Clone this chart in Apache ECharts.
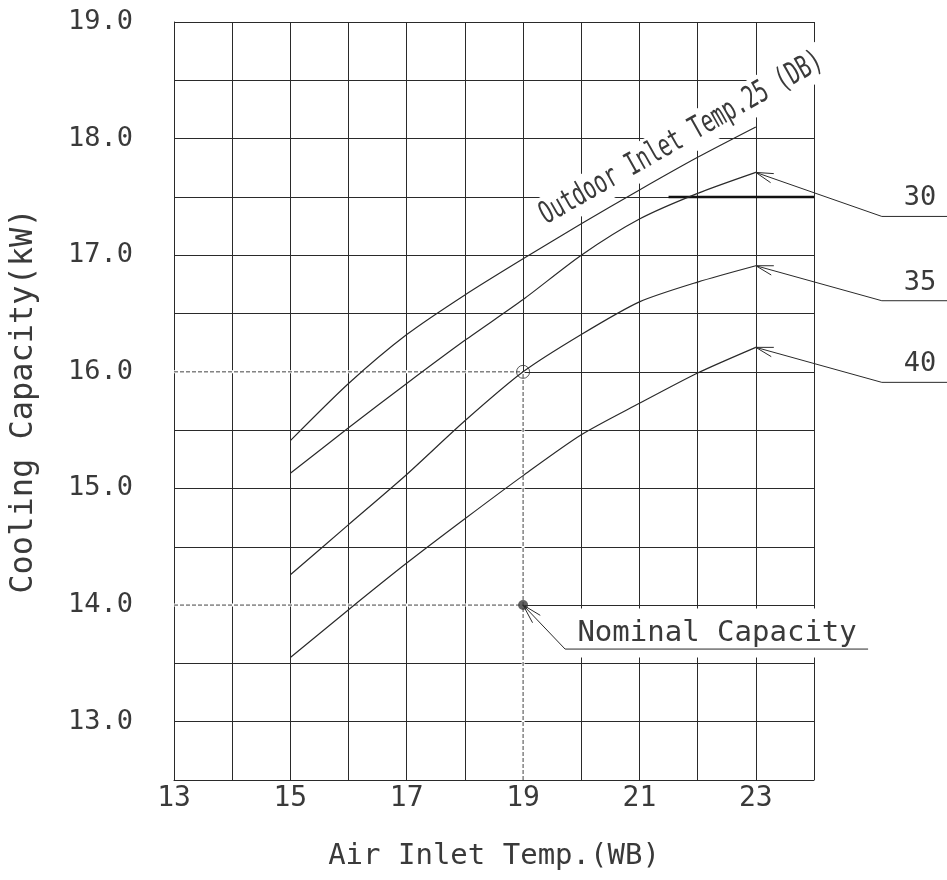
<!DOCTYPE html>
<html><head><meta charset="utf-8">
<script src="https://cdn.jsdelivr.net/npm/echarts@6/dist/echarts.min.js"></script>
<style>html,body{margin:0;padding:0;background:#fff}#c{width:947px;height:880px}</style>
</head><body><div id="c"></div>
<script>
// ---- data ----
const xTemps = [15, 16, 17, 18, 19, 20, 21, 22, 23];
const cap25 = [15.41, 15.90, 16.32, 16.66, 16.97, 17.27, 17.56, 17.84, 18.10];
const cap30 = [15.13, 15.52, 15.90, 16.27, 16.62, 17.00, 17.31, 17.53, 17.71];
const cap35 = [14.26, 14.69, 15.12, 15.58, 16.00, 16.32, 16.60, 16.77, 16.91];
const cap40 = [13.55, 13.96, 14.36, 14.74, 15.11, 15.46, 15.73, 15.99, 16.21];
const xTickLabels = [13, 15, 17, 19, 21, 23];
const yTickLabels = [13, 14, 15, 16, 17, 18, 19];
const ratedPoint = [19, 16];
const nominalPoint = [19, 14];
const boldGridSeg = [[21.5, 17.5], [24, 17.5]];
const outdoorNames = ['30', '35', '40'];
const outdoorSeries = [cap30, cap35, cap40];
const mainLabel = 'Outdoor Inlet Temp.25 (DB)';
const mainLabelAnchor = [21.72, 18.0];
const nominalText = 'Nominal Capacity';

const X_MIN = 13, X_MAX = 24, Y_MIN = 12.5, Y_MAX = 19;
const INK = '#2a2a2a';
const TXT = '#3a3a3a';
const FONT = "'DejaVu Sans Mono', monospace";

const pairs = arr => xTemps.map((x, i) => [x, arr[i]]);

const curve = (name, arr) => ({
  name, type: 'line', data: pairs(arr), smooth: 0.25, showSymbol: false, symbol: 'none',
  lineStyle: { color: INK, width: 1.2 }, z: 5, silent: true, animation: false
});

const chart = echarts.init(document.getElementById('c'), null, { renderer: 'canvas' });

const option = {
  animation: false,
  backgroundColor: '#fff',
  grid: { left: 172, top: 22, width: 642, height: 758, containLabel: false },
  xAxis: {
    type: 'value', min: X_MIN, max: X_MAX, interval: 1,
    name: 'Air Inlet Temp.(WB)', nameLocation: 'middle', nameGap: 62,
    nameTextStyle: { fontFamily: FONT, fontSize: 29, color: TXT },
    axisLine: { show: true, lineStyle: { color: INK, width: 1 } },
    axisTick: { show: false },
    axisLabel: {
      margin: 5, fontFamily: FONT, fontSize: 28, color: TXT,
      formatter: v => xTickLabels.includes(v) ? String(v) : ''
    },
    splitLine: { show: true, lineStyle: { color: INK, width: 1 } }
  },
  yAxis: {
    type: 'value', min: Y_MIN, max: Y_MAX, interval: 0.5,
    name: 'Cooling Capacity(kW)', nameLocation: 'middle', nameGap: 134, nameRotate: 90,
    nameTextStyle: { fontFamily: FONT, fontSize: 32, color: TXT },
    axisLine: { show: true, lineStyle: { color: INK, width: 1 } },
    axisTick: { show: false },
    axisLabel: {
      margin: 41, fontFamily: FONT, fontSize: 27, color: TXT,
      formatter: v => yTickLabels.includes(v) ? v.toFixed(1) : ''
    },
    splitLine: { show: true, lineStyle: { color: INK, width: 1 } }
  },
  series: [
    // white masks under dashed reference lines
    { type: 'line', data: [[X_MIN, ratedPoint[1]], ratedPoint], symbol: 'none', lineStyle: { color: '#fff', width: 3 }, z: 2, silent: true },
    { type: 'line', data: [[X_MIN, nominalPoint[1]], nominalPoint], symbol: 'none', lineStyle: { color: '#fff', width: 3 }, z: 2, silent: true },
    { type: 'line', data: [[ratedPoint[0], Y_MIN], ratedPoint], symbol: 'none', lineStyle: { color: '#fff', width: 3 }, z: 2, silent: true },
    // dashed reference lines
    { type: 'line', data: [[X_MIN, ratedPoint[1]], ratedPoint], symbol: 'none', lineStyle: { color: '#444', width: 1, type: [4, 2] }, z: 3, silent: true },
    { type: 'line', data: [[X_MIN, nominalPoint[1]], nominalPoint], symbol: 'none', lineStyle: { color: '#444', width: 1, type: [4, 2] }, z: 3, silent: true },
    { type: 'line', data: [[ratedPoint[0], Y_MIN], ratedPoint], symbol: 'none', lineStyle: { color: '#444', width: 1, type: [4, 2] }, z: 3, silent: true },
    // bold grid segment
    { type: 'line', data: boldGridSeg, symbol: 'none', lineStyle: { color: '#111', width: 2.5 }, z: 3, silent: true },
    curve('25', cap25),
    curve('30', cap30),
    curve('35', cap35),
    curve('40', cap40),
    { type: 'scatter', data: [ratedPoint], symbol: 'circle', symbolSize: 13,
      itemStyle: { color: 'rgba(0,0,0,0)', borderColor: INK, borderWidth: 1 }, z: 6, silent: true },
    { type: 'scatter', data: [nominalPoint], symbol: 'circle', symbolSize: 10,
      itemStyle: { color: '#3a3a3a' }, z: 6, silent: true }
  ]
};
chart.setOption(option);

// ---- annotations positioned from data coordinates ----
const px = p => chart.convertToPixel({ gridIndex: 0 }, p);
const W = 947;
const graphics = [];

function arrowHead(tip, toward, len, spread) {
  const ang = Math.atan2(toward[1] - tip[1], toward[0] - tip[0]);
  const a1 = ang - spread, a2 = ang + spread;
  return [[tip[0] + len * Math.cos(a1), tip[1] + len * Math.sin(a1)], tip,
          [tip[0] + len * Math.cos(a2), tip[1] + len * Math.sin(a2)]];
}
function poly(points, z) {
  return { type: 'polyline', z: z || 10, silent: true, shape: { points },
    style: { stroke: INK, lineWidth: 1, fill: null } };
}

// leaders for 30 / 35 / 40
const leaderDy = [44, 35, 35];
outdoorSeries.forEach((arr, i) => {
  const tip = px([xTemps[xTemps.length - 1], arr[arr.length - 1]]);
  const knee = [tip[0] + 126, tip[1] + leaderDy[i]];
  graphics.push(poly([tip, knee, [W, knee[1]]]));
  graphics.push(poly(arrowHead(tip, knee, 18, 0.27)));
  graphics.push({ type: 'text', z: 10, silent: true, x: 920, y: knee[1] - 18,
    style: { text: outdoorNames[i], fontFamily: FONT, fontSize: 27, fill: TXT, align: 'center', verticalAlign: 'middle' } });
});

// Nominal capacity label
const nom = px(nominalPoint);
const nKnee = [nom[0] + 42, nom[1] + 44];
graphics.push({ type: 'text', z: 1, silent: true, x: nKnee[0] + 152, y: nKnee[1] - 16,
  style: { text: nominalText, fontFamily: FONT, fontSize: 29, fill: TXT, align: 'center', verticalAlign: 'middle',
    backgroundColor: '#fff', padding: [10, 12, 10, 12] } });
graphics.push(poly([nom, nKnee, [nKnee[0] + 303, nKnee[1]]]));
graphics.push(poly(arrowHead(nom, nKnee, 20, 0.27)));

// rotated main label
const ml = px(mainLabelAnchor);
graphics.push({ type: 'text', z: 1, silent: true, x: ml[0], y: ml[1], rotation: Math.PI * 29.5 / 180, scaleX: 0.66,
  style: { text: mainLabel, fontFamily: FONT, fontSize: 31, fill: TXT, align: 'center', verticalAlign: 'middle',
    backgroundColor: '#fff', padding: [4, 6, 2, 6] } });

chart.setOption({ graphic: graphics });
</script>
</body></html>
